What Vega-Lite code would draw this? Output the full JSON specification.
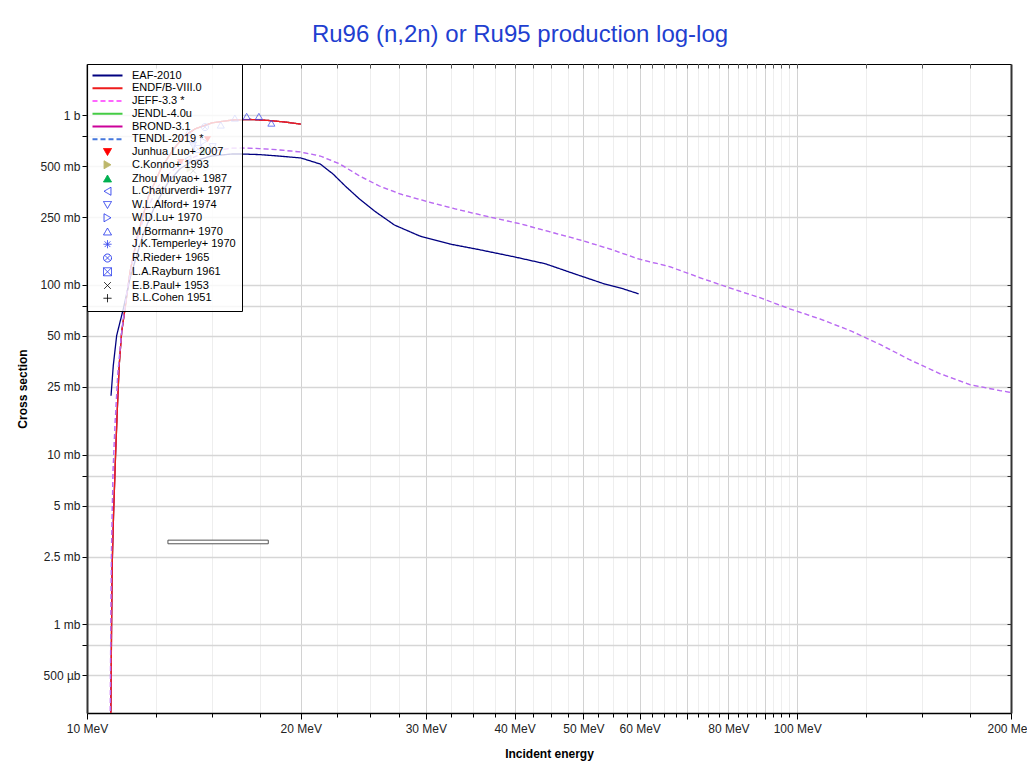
{
  "$schema": "https://vega.github.io/schema/vega-lite/v6.json",
  "width": 924,
  "height": 649,
  "autosize": {"type": "none"},
  "padding": {"left": 87, "top": 64, "right": 16, "bottom": 61},
  "background": "white",
  "title": {"text": "Ru96 (n,2n) or Ru95 production log-log", "fontSize": 24, "font": "Liberation Sans", "fontWeight": "normal", "color": "#1f3fd0", "anchor": "middle", "offset": 17, "dx": -29},
  "datasets": {
    "curves": [
      {"series": "JENDL-4.0u", "e": 10.795, "xs": 0.2}, {"series": "JENDL-4.0u", "e": 10.83, "xs": 1.0}, {"series": "JENDL-4.0u", "e": 10.85, "xs": 2.2}, {"series": "JENDL-4.0u", "e": 10.9, "xs": 4.5}, {"series": "JENDL-4.0u", "e": 10.97, "xs": 9.9}, {"series": "JENDL-4.0u", "e": 11.03, "xs": 18}, {"series": "JENDL-4.0u", "e": 11.1, "xs": 33.5}, {"series": "JENDL-4.0u", "e": 11.19, "xs": 52.7}, {"series": "JENDL-4.0u", "e": 11.31, "xs": 72}, {"series": "JENDL-4.0u", "e": 11.5, "xs": 120}, {"series": "JENDL-4.0u", "e": 11.8, "xs": 200}, {"series": "JENDL-4.0u", "e": 12.2, "xs": 330}, {"series": "JENDL-4.0u", "e": 12.7, "xs": 480}, {"series": "JENDL-4.0u", "e": 13.2, "xs": 620}, {"series": "JENDL-4.0u", "e": 13.7, "xs": 750}, {"series": "JENDL-4.0u", "e": 14.2, "xs": 830}, {"series": "JENDL-4.0u", "e": 15.0, "xs": 900}, {"series": "JENDL-4.0u", "e": 16.0, "xs": 935}, {"series": "JENDL-4.0u", "e": 17.0, "xs": 942}, {"series": "JENDL-4.0u", "e": 18.0, "xs": 930}, {"series": "JENDL-4.0u", "e": 19.0, "xs": 910}, {"series": "JENDL-4.0u", "e": 20.0, "xs": 885},
      {"series": "BROND-3.1", "e": 10.795, "xs": 0.2}, {"series": "BROND-3.1", "e": 10.83, "xs": 1.0}, {"series": "BROND-3.1", "e": 10.85, "xs": 2.2}, {"series": "BROND-3.1", "e": 10.9, "xs": 4.5}, {"series": "BROND-3.1", "e": 10.97, "xs": 9.9}, {"series": "BROND-3.1", "e": 11.03, "xs": 18}, {"series": "BROND-3.1", "e": 11.1, "xs": 33.5}, {"series": "BROND-3.1", "e": 11.19, "xs": 52.7}, {"series": "BROND-3.1", "e": 11.31, "xs": 72}, {"series": "BROND-3.1", "e": 11.5, "xs": 120}, {"series": "BROND-3.1", "e": 11.8, "xs": 200}, {"series": "BROND-3.1", "e": 12.2, "xs": 330}, {"series": "BROND-3.1", "e": 12.7, "xs": 480}, {"series": "BROND-3.1", "e": 13.2, "xs": 620}, {"series": "BROND-3.1", "e": 13.7, "xs": 750}, {"series": "BROND-3.1", "e": 14.2, "xs": 830}, {"series": "BROND-3.1", "e": 15.0, "xs": 900}, {"series": "BROND-3.1", "e": 16.0, "xs": 935}, {"series": "BROND-3.1", "e": 17.0, "xs": 942}, {"series": "BROND-3.1", "e": 18.0, "xs": 930}, {"series": "BROND-3.1", "e": 19.0, "xs": 910}, {"series": "BROND-3.1", "e": 20.0, "xs": 885},
      {"series": "ENDF/B-VIII.0", "e": 10.795, "xs": 0.2}, {"series": "ENDF/B-VIII.0", "e": 10.83, "xs": 1.0}, {"series": "ENDF/B-VIII.0", "e": 10.85, "xs": 2.2}, {"series": "ENDF/B-VIII.0", "e": 10.9, "xs": 4.5}, {"series": "ENDF/B-VIII.0", "e": 10.97, "xs": 9.9}, {"series": "ENDF/B-VIII.0", "e": 11.03, "xs": 18}, {"series": "ENDF/B-VIII.0", "e": 11.1, "xs": 33.5}, {"series": "ENDF/B-VIII.0", "e": 11.19, "xs": 52.7}, {"series": "ENDF/B-VIII.0", "e": 11.31, "xs": 72}, {"series": "ENDF/B-VIII.0", "e": 11.5, "xs": 120}, {"series": "ENDF/B-VIII.0", "e": 11.8, "xs": 200}, {"series": "ENDF/B-VIII.0", "e": 12.2, "xs": 330}, {"series": "ENDF/B-VIII.0", "e": 12.7, "xs": 480}, {"series": "ENDF/B-VIII.0", "e": 13.2, "xs": 620}, {"series": "ENDF/B-VIII.0", "e": 13.7, "xs": 750}, {"series": "ENDF/B-VIII.0", "e": 14.2, "xs": 830}, {"series": "ENDF/B-VIII.0", "e": 15.0, "xs": 900}, {"series": "ENDF/B-VIII.0", "e": 16.0, "xs": 935}, {"series": "ENDF/B-VIII.0", "e": 17.0, "xs": 942}, {"series": "ENDF/B-VIII.0", "e": 18.0, "xs": 930}, {"series": "ENDF/B-VIII.0", "e": 19.0, "xs": 910}, {"series": "ENDF/B-VIII.0", "e": 20.0, "xs": 885},
      {"series": "EAF-2010", "e": 10.81, "xs": 22.2}, {"series": "EAF-2010", "e": 10.89, "xs": 33.5}, {"series": "EAF-2010", "e": 11.01, "xs": 50.3}, {"series": "EAF-2010", "e": 11.25, "xs": 72.2}, {"series": "EAF-2010", "e": 11.5, "xs": 110}, {"series": "EAF-2010", "e": 12.0, "xs": 200}, {"series": "EAF-2010", "e": 12.5, "xs": 300}, {"series": "EAF-2010", "e": 13.0, "xs": 400}, {"series": "EAF-2010", "e": 13.5, "xs": 480}, {"series": "EAF-2010", "e": 14.0, "xs": 530}, {"series": "EAF-2010", "e": 15.0, "xs": 575}, {"series": "EAF-2010", "e": 16.0, "xs": 590}, {"series": "EAF-2010", "e": 16.5, "xs": 590}, {"series": "EAF-2010", "e": 17.5, "xs": 585}, {"series": "EAF-2010", "e": 18.5, "xs": 575}, {"series": "EAF-2010", "e": 20.0, "xs": 559}, {"series": "EAF-2010", "e": 21.3, "xs": 515}, {"series": "EAF-2010", "e": 22.2, "xs": 450}, {"series": "EAF-2010", "e": 23.1, "xs": 382}, {"series": "EAF-2010", "e": 24.2, "xs": 320}, {"series": "EAF-2010", "e": 25.4, "xs": 272}, {"series": "EAF-2010", "e": 27.1, "xs": 225}, {"series": "EAF-2010", "e": 29.4, "xs": 194}, {"series": "EAF-2010", "e": 32.4, "xs": 174}, {"series": "EAF-2010", "e": 35.7, "xs": 161}, {"series": "EAF-2010", "e": 40.0, "xs": 146}, {"series": "EAF-2010", "e": 44.2, "xs": 133}, {"series": "EAF-2010", "e": 48.6, "xs": 116}, {"series": "EAF-2010", "e": 53.6, "xs": 101}, {"series": "EAF-2010", "e": 56.3, "xs": 96}, {"series": "EAF-2010", "e": 59.8, "xs": 88.5},
      {"series": "JEFF-3.3 *", "e": 10.78, "xs": 0.2}, {"series": "JEFF-3.3 *", "e": 10.8, "xs": 1}, {"series": "JEFF-3.3 *", "e": 10.83, "xs": 3}, {"series": "JEFF-3.3 *", "e": 10.88, "xs": 8}, {"series": "JEFF-3.3 *", "e": 10.95, "xs": 15}, {"series": "JEFF-3.3 *", "e": 11.05, "xs": 30}, {"series": "JEFF-3.3 *", "e": 11.2, "xs": 55}, {"series": "JEFF-3.3 *", "e": 11.4, "xs": 95}, {"series": "JEFF-3.3 *", "e": 11.7, "xs": 170}, {"series": "JEFF-3.3 *", "e": 12.1, "xs": 270}, {"series": "JEFF-3.3 *", "e": 12.6, "xs": 380}, {"series": "JEFF-3.3 *", "e": 13.1, "xs": 460}, {"series": "JEFF-3.3 *", "e": 13.6, "xs": 520}, {"series": "JEFF-3.3 *", "e": 14.2, "xs": 570}, {"series": "JEFF-3.3 *", "e": 15.0, "xs": 615}, {"series": "JEFF-3.3 *", "e": 16.0, "xs": 638}, {"series": "JEFF-3.3 *", "e": 16.5, "xs": 640}, {"series": "JEFF-3.3 *", "e": 17.5, "xs": 635}, {"series": "JEFF-3.3 *", "e": 18.5, "xs": 625}, {"series": "JEFF-3.3 *", "e": 20.0, "xs": 606}, {"series": "JEFF-3.3 *", "e": 21.3, "xs": 574}, {"series": "JEFF-3.3 *", "e": 22.7, "xs": 515}, {"series": "JEFF-3.3 *", "e": 24.2, "xs": 438}, {"series": "JEFF-3.3 *", "e": 25.8, "xs": 382}, {"series": "JEFF-3.3 *", "e": 27.6, "xs": 343}, {"series": "JEFF-3.3 *", "e": 29.9, "xs": 312}, {"series": "JEFF-3.3 *", "e": 33.0, "xs": 280}, {"series": "JEFF-3.3 *", "e": 36.9, "xs": 251}, {"series": "JEFF-3.3 *", "e": 40.7, "xs": 229}, {"series": "JEFF-3.3 *", "e": 44.9, "xs": 205}, {"series": "JEFF-3.3 *", "e": 49.4, "xs": 184}, {"series": "JEFF-3.3 *", "e": 54.4, "xs": 163}, {"series": "JEFF-3.3 *", "e": 59.8, "xs": 142}, {"series": "JEFF-3.3 *", "e": 66.1, "xs": 128}, {"series": "JEFF-3.3 *", "e": 73.0, "xs": 110}, {"series": "JEFF-3.3 *", "e": 80.3, "xs": 96}, {"series": "JEFF-3.3 *", "e": 88.6, "xs": 84}, {"series": "JEFF-3.3 *", "e": 97.8, "xs": 72}, {"series": "JEFF-3.3 *", "e": 107.6, "xs": 63}, {"series": "JEFF-3.3 *", "e": 118.9, "xs": 53.6}, {"series": "JEFF-3.3 *", "e": 131, "xs": 44.4}, {"series": "JEFF-3.3 *", "e": 144, "xs": 36.2}, {"series": "JEFF-3.3 *", "e": 159, "xs": 29.9}, {"series": "JEFF-3.3 *", "e": 175, "xs": 25.8}, {"series": "JEFF-3.3 *", "e": 193, "xs": 23.8}, {"series": "JEFF-3.3 *", "e": 200, "xs": 23.2},
      {"series": "TENDL-2019 *", "e": 10.78, "xs": 0.2}, {"series": "TENDL-2019 *", "e": 10.8, "xs": 1}, {"series": "TENDL-2019 *", "e": 10.83, "xs": 3}, {"series": "TENDL-2019 *", "e": 10.88, "xs": 8}, {"series": "TENDL-2019 *", "e": 10.95, "xs": 15}, {"series": "TENDL-2019 *", "e": 11.05, "xs": 30}, {"series": "TENDL-2019 *", "e": 11.2, "xs": 55}, {"series": "TENDL-2019 *", "e": 11.4, "xs": 95}, {"series": "TENDL-2019 *", "e": 11.7, "xs": 170}, {"series": "TENDL-2019 *", "e": 12.1, "xs": 270}, {"series": "TENDL-2019 *", "e": 12.6, "xs": 380}, {"series": "TENDL-2019 *", "e": 13.1, "xs": 460}, {"series": "TENDL-2019 *", "e": 13.6, "xs": 520}, {"series": "TENDL-2019 *", "e": 14.2, "xs": 570}, {"series": "TENDL-2019 *", "e": 15.0, "xs": 615}, {"series": "TENDL-2019 *", "e": 16.0, "xs": 638}, {"series": "TENDL-2019 *", "e": 16.5, "xs": 640}, {"series": "TENDL-2019 *", "e": 17.5, "xs": 635}, {"series": "TENDL-2019 *", "e": 18.5, "xs": 625}, {"series": "TENDL-2019 *", "e": 20.0, "xs": 606}, {"series": "TENDL-2019 *", "e": 21.3, "xs": 574}, {"series": "TENDL-2019 *", "e": 22.7, "xs": 515}, {"series": "TENDL-2019 *", "e": 24.2, "xs": 438}, {"series": "TENDL-2019 *", "e": 25.8, "xs": 382}, {"series": "TENDL-2019 *", "e": 27.6, "xs": 343}, {"series": "TENDL-2019 *", "e": 29.9, "xs": 312}, {"series": "TENDL-2019 *", "e": 33.0, "xs": 280}, {"series": "TENDL-2019 *", "e": 36.9, "xs": 251}, {"series": "TENDL-2019 *", "e": 40.7, "xs": 229}, {"series": "TENDL-2019 *", "e": 44.9, "xs": 205}, {"series": "TENDL-2019 *", "e": 49.4, "xs": 184}, {"series": "TENDL-2019 *", "e": 54.4, "xs": 163}, {"series": "TENDL-2019 *", "e": 59.8, "xs": 142}, {"series": "TENDL-2019 *", "e": 66.1, "xs": 128}, {"series": "TENDL-2019 *", "e": 73.0, "xs": 110}, {"series": "TENDL-2019 *", "e": 80.3, "xs": 96}, {"series": "TENDL-2019 *", "e": 88.6, "xs": 84}, {"series": "TENDL-2019 *", "e": 97.8, "xs": 72}, {"series": "TENDL-2019 *", "e": 107.6, "xs": 63}, {"series": "TENDL-2019 *", "e": 118.9, "xs": 53.6}, {"series": "TENDL-2019 *", "e": 131, "xs": 44.4}, {"series": "TENDL-2019 *", "e": 144, "xs": 36.2}, {"series": "TENDL-2019 *", "e": 159, "xs": 29.9}, {"series": "TENDL-2019 *", "e": 175, "xs": 25.8}, {"series": "TENDL-2019 *", "e": 193, "xs": 23.8}, {"series": "TENDL-2019 *", "e": 200, "xs": 23.2}
    ],
    "hollow": [
      {"series": "L.Chaturverdi+ 1977", "e": 13.87, "xs": 551},
      {"series": "W.L.Alford+ 1974", "e": 15.03, "xs": 651},
      {"series": "W.L.Alford+ 1974", "e": 14.1, "xs": 665},
      {"series": "W.D.Lu+ 1970", "e": 14.6, "xs": 700},
      {"series": "M.Bormann+ 1970", "e": 13.89, "xs": 791},
      {"series": "M.Bormann+ 1970", "e": 15.43, "xs": 874},
      {"series": "M.Bormann+ 1970", "e": 16.15, "xs": 960},
      {"series": "M.Bormann+ 1970", "e": 16.78, "xs": 983},
      {"series": "M.Bormann+ 1970", "e": 17.46, "xs": 983},
      {"series": "M.Bormann+ 1970", "e": 18.18, "xs": 897},
      {"series": "J.K.Temperley+ 1970", "e": 14.1, "xs": 690},
      {"series": "R.Rieder+ 1965", "e": 14.66, "xs": 850},
      {"series": "L.A.Rayburn 1961", "e": 14.34, "xs": 631},
      {"series": "E.B.Paul+ 1953", "e": 14.11, "xs": 470}
    ],
    "filled": [
      {"series": "Junhua Luo+ 2007", "e": 13.55, "xs": 529},
      {"series": "Junhua Luo+ 2007", "e": 14.78, "xs": 720},
      {"series": "C.Konno+ 1993", "e": 13.95, "xs": 481},
      {"series": "Zhou Muyao+ 1987", "e": 14.6, "xs": 620}
    ],
    "bars": [
      {"series": "B.L.Cohen 1951", "e1": 13.0, "e2": 18.0, "s1": 2.98, "s2": 3.13}
    ]
  },
  "layer": [
    {
      "data": {"name": "curves"},
      "mark": {"type": "line", "clip": true, "strokeWidth": 1.3},
      "encoding": {
        "x": {"field": "e", "type": "quantitative", "title": "Incident energy",
          "scale": {"type": "log", "domain": [10, 200], "nice": false},
          "axis": {
            "values": [10,12.5,15,17.5,20,22.5,25,27.5,30,32.5,35,37.5,40,42.5,45,47.5,50,52.5,55,57.5,60,62.5,65,67.5,70,72.5,75,77.5,80,82.5,85,87.5,90,92.5,95,97.5,100,125,150,175,200],
            "labelExpr": "indexof([10,20,30,40,50,60,80,100,200], datum.value) >= 0 ? datum.value + ' MeV' : ''",
            "labelOverlap": false, "labelFlush": false,
            "grid": true,
            "gridColor": {"condition": {"test": "(datum.value % 10 == 0 && datum.value <= 100) || datum.value == 200", "value": "#d2d2d2"}, "value": "#eeeeee"},
            "gridWidth": 1,
            "tickSize": {"condition": {"test": "(datum.value % 10 == 0 && datum.value <= 100) || datum.value == 200", "value": 6}, "value": 4},
            "tickColor": "#000", "domainColor": "#000", "domainWidth": 1.5,
            "labelPadding": 4, "titlePadding": 14
          }
        },
        "y": {"field": "xs", "type": "quantitative", "title": "Cross section",
          "scale": {"type": "log", "domain": [0.3, 2000], "nice": false},
          "axis": {
            "values": [0.5,0.75,1,2.5,5,7.5,10,25,50,75,100,250,500,750,1000],
            "labelExpr": "indexof([0.75,7.5,75,750], datum.value) >= 0 ? '' : datum.value >= 1000 ? (datum.value/1000) + ' b' : datum.value < 1 ? round(datum.value*1000) + ' µb' : datum.value + ' mb'",
            "labelOverlap": false, "labelFlush": false,
            "grid": true, "gridColor": "#d6d6d6", "gridWidth": 1.3,
            "tickSize": 5, "tickColor": "#000", "domainColor": "#333", "domainWidth": 2,
            "labelPadding": 2, "titlePadding": 10
          }
        },
        "color": {"field": "series", "type": "nominal",
          "scale": {
            "domain": ["EAF-2010","ENDF/B-VIII.0","JEFF-3.3 *","JENDL-4.0u","BROND-3.1","TENDL-2019 *","Junhua Luo+ 2007","C.Konno+ 1993","Zhou Muyao+ 1987","L.Chaturverdi+ 1977","W.L.Alford+ 1974","W.D.Lu+ 1970","M.Bormann+ 1970","J.K.Temperley+ 1970","R.Rieder+ 1965","L.A.Rayburn 1961","E.B.Paul+ 1953","B.L.Cohen 1951"],
            "range": ["#000080","#ee1c1c","#ff66ff","#44cc44","#cc0099","#4477dd","#ff0000","#bdb76b","#00b050","#3344ee","#3344ee","#3344ee","#3344ee","#3344ee","#3344ee","#3344ee","#000000","#000000"]
          },
          "legend": {
            "title": null, "orient": "top-left", "offset": 0, "padding": 6,
            "fillColor": "rgba(255,255,255,0.8)", "strokeColor": "#000",
            "labelFont": "Liberation Sans", "labelFontSize": 11, "labelColor": "#000", "labelLimit": 300,
            "symbolSize": 100, "rowPadding": 0.75, "symbolOffset": 9, "labelOffset": 19, "zindex": 1,
            "encode": {"symbols": {"update": {
              "size": {"signal": "indexof(['EAF-2010','ENDF/B-VIII.0','JEFF-3.3 *','JENDL-4.0u','BROND-3.1','TENDL-2019 *'], datum.value) >= 0 ? 900 : 64"},
              "strokeWidth": {"signal": "indexof(['EAF-2010','ENDF/B-VIII.0','JEFF-3.3 *','JENDL-4.0u','BROND-3.1','TENDL-2019 *'], datum.value) >= 0 ? 2 : 1"},
              "fill": {"signal": "indexof(['Junhua Luo+ 2007','C.Konno+ 1993','Zhou Muyao+ 1987'], datum.value) >= 0 ? scale('color', datum.value) : 'transparent'"},
              "strokeDash": {"signal": "indexof(['JEFF-3.3 *','TENDL-2019 *'], datum.value) >= 0 ? [5,3] : [1,0]"},
              "opacity": {"value": 1}
            }}}
          }
        },
        "strokeDash": {"condition": {"test": "datum.series === 'JEFF-3.3 *' || datum.series === 'TENDL-2019 *'", "value": [5, 3]}, "value": [1, 0]},
        "strokeOpacity": {"condition": {"test": "datum.series === 'TENDL-2019 *'", "value": 0.4}, "value": 1}
      }
    },
    {
      "data": {"name": "bars"},
      "mark": {"type": "rect", "fill": "white", "stroke": "#555", "strokeWidth": 1, "clip": true},
      "encoding": {
        "x": {"field": "e1", "type": "quantitative", "scale": {"type": "log", "domain": [10, 200], "nice": false},
          "axis": {"orient": "top", "title": null, "labels": false, "grid": false, "domain": false,
            "values": [10,12.5,15,17.5,20,22.5,25,27.5,30,32.5,35,37.5,40,42.5,45,47.5,50,52.5,55,57.5,60,62.5,65,67.5,70,72.5,75,77.5,80,82.5,85,87.5,90,92.5,95,97.5,100,125,150,175,200],
            "tickSize": -4, "tickColor": "#555"}},
        "x2": {"field": "e2"},
        "y": {"field": "s1", "type": "quantitative", "scale": {"type": "log", "domain": [0.3, 2000], "nice": false},
          "axis": {"orient": "right", "title": null, "labels": false, "grid": false, "domain": true, "domainColor": "#333", "domainWidth": 2,
            "values": [0.5,0.75,1,2.5,5,7.5,10,25,50,75,100,250,500,750,1000],
            "tickSize": -4, "tickColor": "#333"}},
        "y2": {"field": "s2"}
      }
    },
    {
      "data": {"name": "hollow"},
      "mark": {"type": "point", "filled": false, "size": 50, "strokeWidth": 1, "clip": true},
      "encoding": {
        "x": {"field": "e", "type": "quantitative", "scale": {"type": "log", "domain": [10, 200], "nice": false}, "axis": null},
        "y": {"field": "xs", "type": "quantitative", "scale": {"type": "log", "domain": [0.3, 2000], "nice": false}, "axis": null},
        "color": {"field": "series", "type": "nominal",
          "legend": {
            "title": null, "orient": "top-left", "offset": 0, "padding": 6,
            "fillColor": "rgba(255,255,255,0.8)", "strokeColor": "#000",
            "labelFont": "Liberation Sans", "labelFontSize": 11, "labelColor": "#000", "labelLimit": 300,
            "symbolSize": 100, "rowPadding": 0.75, "symbolOffset": 9, "labelOffset": 19, "zindex": 1,
            "encode": {"symbols": {"update": {
              "size": {"signal": "indexof(['EAF-2010','ENDF/B-VIII.0','JEFF-3.3 *','JENDL-4.0u','BROND-3.1','TENDL-2019 *'], datum.value) >= 0 ? 900 : 64"},
              "strokeWidth": {"signal": "indexof(['EAF-2010','ENDF/B-VIII.0','JEFF-3.3 *','JENDL-4.0u','BROND-3.1','TENDL-2019 *'], datum.value) >= 0 ? 2 : 1"},
              "fill": {"signal": "indexof(['Junhua Luo+ 2007','C.Konno+ 1993','Zhou Muyao+ 1987'], datum.value) >= 0 ? scale('color', datum.value) : 'transparent'"},
              "strokeDash": {"signal": "indexof(['JEFF-3.3 *','TENDL-2019 *'], datum.value) >= 0 ? [5,3] : [1,0]"},
              "opacity": {"value": 1}
            }}}
          }
        },
        "shape": {"field": "series", "type": "nominal",
          "scale": {
            "domain": ["EAF-2010","ENDF/B-VIII.0","JEFF-3.3 *","JENDL-4.0u","BROND-3.1","TENDL-2019 *","Junhua Luo+ 2007","C.Konno+ 1993","Zhou Muyao+ 1987","L.Chaturverdi+ 1977","W.L.Alford+ 1974","W.D.Lu+ 1970","M.Bormann+ 1970","J.K.Temperley+ 1970","R.Rieder+ 1965","L.A.Rayburn 1961","E.B.Paul+ 1953","B.L.Cohen 1951"],
            "range": ["stroke","stroke","stroke","stroke","stroke","stroke","triangle-down","triangle-right","triangle-up","triangle-left","triangle-down","triangle-right","triangle-up","M-1,0L1,0M0,-1L0,1M-0.7,-0.7L0.7,0.7M-0.7,0.7L0.7,-0.7","M1,0A1,1,0,1,1,-1,0A1,1,0,1,1,1,0ZM-0.7,-0.7L0.7,0.7M-0.7,0.7L0.7,-0.7","M-1,-1L1,-1L1,1L-1,1ZM-1,-1L1,1M-1,1L1,-1","M-0.8,-0.8L0.8,0.8M-0.8,0.8L0.8,-0.8","M-1,0L1,0M0,-1L0,1"]
          },
          "legend": {
            "title": null, "orient": "top-left", "offset": 0, "padding": 6,
            "fillColor": "rgba(255,255,255,0.8)", "strokeColor": "#000",
            "labelFont": "Liberation Sans", "labelFontSize": 11, "labelColor": "#000", "labelLimit": 300,
            "symbolSize": 100, "rowPadding": 0.75, "symbolOffset": 9, "labelOffset": 19, "zindex": 1,
            "encode": {"symbols": {"update": {
              "size": {"signal": "indexof(['EAF-2010','ENDF/B-VIII.0','JEFF-3.3 *','JENDL-4.0u','BROND-3.1','TENDL-2019 *'], datum.value) >= 0 ? 900 : 64"},
              "strokeWidth": {"signal": "indexof(['EAF-2010','ENDF/B-VIII.0','JEFF-3.3 *','JENDL-4.0u','BROND-3.1','TENDL-2019 *'], datum.value) >= 0 ? 2 : 1"},
              "fill": {"signal": "indexof(['Junhua Luo+ 2007','C.Konno+ 1993','Zhou Muyao+ 1987'], datum.value) >= 0 ? scale('color', datum.value) : 'transparent'"},
              "strokeDash": {"signal": "indexof(['JEFF-3.3 *','TENDL-2019 *'], datum.value) >= 0 ? [5,3] : [1,0]"},
              "opacity": {"value": 1}
            }}}
          }
        }
      }
    },
    {
      "data": {"name": "filled"},
      "transform": [{"filter": {"field": "series", "equal": "Junhua Luo+ 2007"}}],
      "mark": {"type": "point", "filled": true, "size": 50, "opacity": 1, "clip": true, "color": "#ff0000", "shape": "triangle-down"},
      "encoding": {
        "x": {"field": "e", "type": "quantitative", "scale": {"type": "log", "domain": [10, 200], "nice": false}, "axis": null},
        "y": {"field": "xs", "type": "quantitative", "scale": {"type": "log", "domain": [0.3, 2000], "nice": false}, "axis": null}
      }
    },
    {
      "data": {"name": "filled"},
      "transform": [{"filter": {"field": "series", "equal": "C.Konno+ 1993"}}],
      "mark": {"type": "point", "filled": true, "size": 50, "opacity": 1, "clip": true, "color": "#bdb76b", "shape": "triangle-right"},
      "encoding": {
        "x": {"field": "e", "type": "quantitative", "scale": {"type": "log", "domain": [10, 200], "nice": false}, "axis": null},
        "y": {"field": "xs", "type": "quantitative", "scale": {"type": "log", "domain": [0.3, 2000], "nice": false}, "axis": null}
      }
    },
    {
      "data": {"name": "filled"},
      "transform": [{"filter": {"field": "series", "equal": "Zhou Muyao+ 1987"}}],
      "mark": {"type": "point", "filled": true, "size": 50, "opacity": 1, "clip": true, "color": "#00b050", "shape": "triangle-up"},
      "encoding": {
        "x": {"field": "e", "type": "quantitative", "scale": {"type": "log", "domain": [10, 200], "nice": false}, "axis": null},
        "y": {"field": "xs", "type": "quantitative", "scale": {"type": "log", "domain": [0.3, 2000], "nice": false}, "axis": null}
      }
    }
  ],
  "resolve": {"axis": {"x": "independent", "y": "independent"}},
  "config": {
    "view": {"stroke": "#000", "strokeWidth": 1},
    "font": "Liberation Sans",
    "axis": {"labelFont": "Liberation Sans", "labelFontSize": 12, "labelColor": "#222", "titleFont": "Liberation Sans", "titleFontSize": 12, "titleFontWeight": "bold", "titleColor": "#000"}
  }
}
